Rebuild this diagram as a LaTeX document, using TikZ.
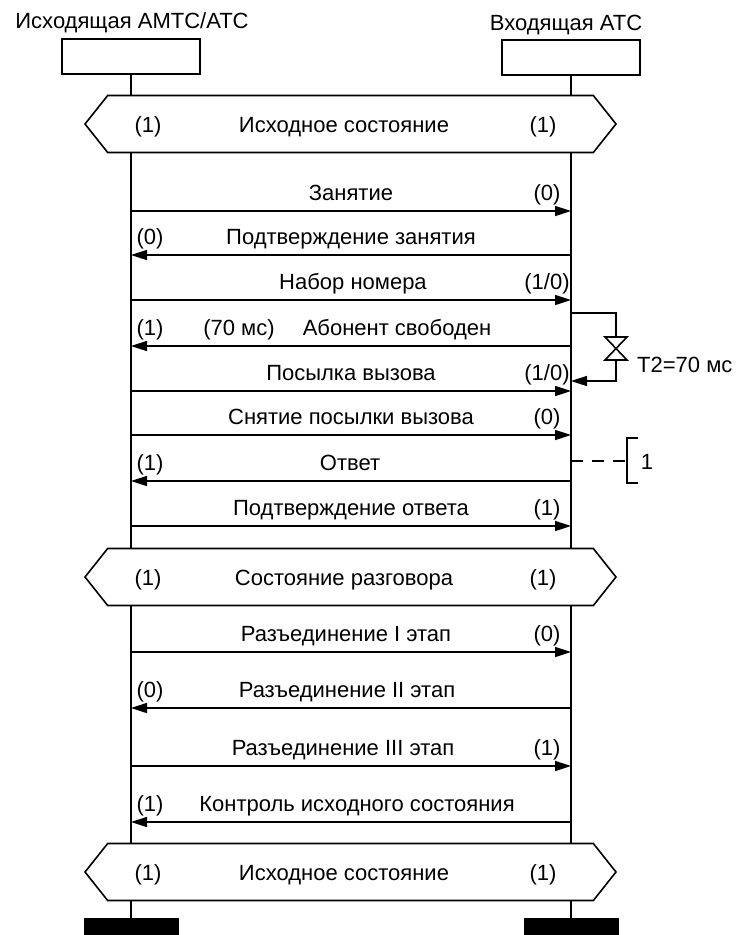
\documentclass[tikz,border=0pt]{standalone}
\usepackage{fontspec}
\setmainfont{Liberation Sans}
\usetikzlibrary{arrows.meta,shapes.symbols}

\begin{document}
\begin{tikzpicture}[x=1pt,y=-1pt,font=\fontsize{22}{26}\selectfont,
    msg/.style={-{Triangle[length=16pt,width=10pt]}, line width=1.6pt},
    life/.style={line width=1.8pt}]
  \tikzset{box/.style={draw, line width=1.6pt, minimum width=138pt, minimum height=35pt, inner sep=0pt},
    bar/.style={fill=black, minimum width=95pt, minimum height=17pt, inner sep=0pt},
    statebox/.style={draw, fill=white, line width=1.6pt, shape=signal, signal to=west and east,
      signal pointer angle=103, minimum width=531pt, minimum height=57pt, inner sep=0pt},
    txt/.style={anchor=base, inner sep=0pt}}
  \useasboundingbox (0,0) rectangle (737,935);
  % exchanges and lifelines
  \node[txt] (na) at (132,28) {Исходящая АМТС/АТС};
  \node[txt] (nb) at (566,30) {Входящая АТС};
  \node[box] (ba) at (131,56.5) {};
  \node[box] (bb) at (571,57.5) {};
  \node[bar] (ea) at (131,926.5) {};
  \node[bar] (eb) at (571,926.5) {};
  \draw[life] (ba) -- (ea);
  \draw[life] (bb) -- (eb);
  % states
  \foreach \n/\y/\t in {1/124/Исходное состояние, 2/577/Состояние разговора, 3/872/Исходное состояние}{
    \node[statebox] (s\n) at (350.5,\y) {};
    \node[txt] (s\n l) at (148,\y+8) {(1)};
    \node[txt] (s\n t) at (344,\y+8) {\t};
    \node[txt] (s\n r) at (543,\y+8) {(1)};
  }
  % forward signals
  \foreach \n/\y/\lx/\t/\k in {1/211/351/Занятие/(0), 3/300/353/Набор номера/{(1/0)},
      5/391/351/Посылка вызова/{(1/0)}, 6/435/351/Снятие посылки вызова/(0),
      8/526/351/Подтверждение ответа/(1), 9/652/346/Разъединение I этап/(0),
      11/766/343/Разъединение III этап/(1)}{
    \coordinate (a\n) at (131,\y);
    \coordinate (b\n) at (571,\y);
    \draw[msg] (a\n) -- (b\n);
    \node[txt] (m\n) at (\lx,\y-11) {\t};
    \node[txt] (k\n) at (547,\y-11) {\k};
  }
  % backward signals
  \foreach \n/\y/\lx/\t/\k in {2/255/351/Подтверждение занятия/(0), 4/346/397/Абонент свободен/(1),
      7/481/350/Ответ/(1), 10/708/347/Разъединение II этап/(0),
      12/822/357/Контроль исходного состояния/(1)}{
    \coordinate (a\n) at (131,\y);
    \coordinate (b\n) at (571,\y);
    \draw[msg] (b\n) -- (a\n);
    \node[txt] (m\n) at (\lx,\y-11) {\t};
    \node[txt] (k\n) at (150,\y-11) {\k};
  }
  \node[txt] (d4) at (239,335) {(70 мс)};
  % timer T2
  \coordinate (t1) at (571,313);
  \coordinate (t2) at (571,381);
  \draw[line width=1.6pt] (t1) -| (616,337) -- (605,337) -- (627,360) -- (605,360) -- (627,337) -- (616,337);
  \draw[msg] (616,360) |- (t2);
  \node[txt, anchor=base west] (tm) at (637,372) {T2=70 мс};
  % note 1
  \coordinate (c1) at (571,461);
  \coordinate (c2) at (627,461);
  \draw[line width=1.6pt, dash pattern=on 12pt off 9pt] (c1) -- (c2);
  \draw[line width=1.6pt] (638,438) -- (627,438) -- (627,483) -- (638,483);
  \node[txt] (cn) at (647,469) {1};
\end{tikzpicture}
\end{document}
